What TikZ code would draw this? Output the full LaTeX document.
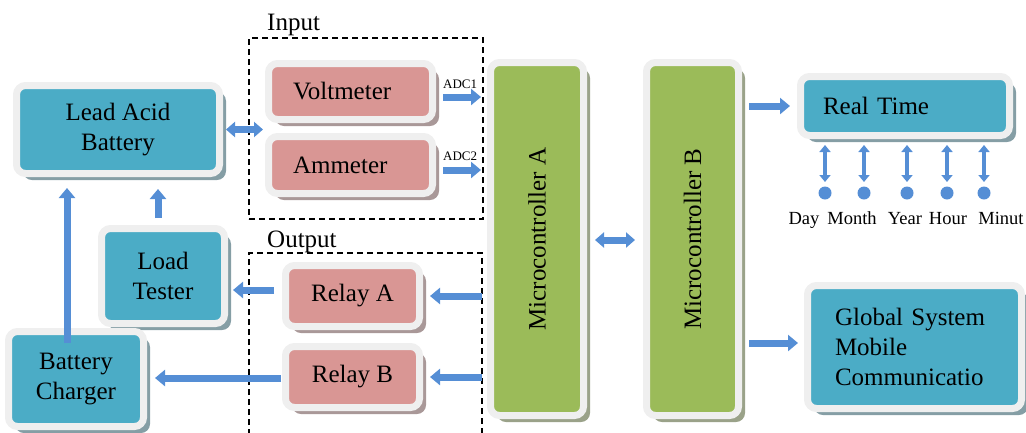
\documentclass[tikz,border=0pt]{standalone}
\usepackage{fontspec}
\setmainfont{Liberation Serif}
\usetikzlibrary{arrows.meta,shadows}

\definecolor{tealbox}{HTML}{4BACC6}
\definecolor{pinkbox}{HTML}{D99694}
\definecolor{greenbox}{HTML}{9BBB59}
\definecolor{rim}{HTML}{EFEFEF}
\definecolor{flow}{HTML}{558ED5}

\newcommand\bigtxt{\fontsize{25}{30}\selectfont}
\newcommand\midtxt{\fontsize{18.5}{22}\selectfont}
\newcommand\tinytxt{\fontsize{13}{15}\selectfont}

\tikzset{
  panel/.style={rectangle, rounded corners=9pt, draw=rim, line width=7pt,
    fill=#1, outer sep=0pt, inner sep=2pt, align=center, font=\bigtxt,
    drop shadow={shadow xshift=6.5pt, shadow yshift=-6.5pt, opacity=1,
      fill=#1!30!gray!85!white}},
  group/.style={draw=black, line width=1.4pt, dash pattern=on 6pt off 4pt,
    outer sep=0pt, inner sep=0pt},
  blk/.style={draw=flow, line width=7pt, -{Triangle[length=10pt,width=16pt]}},
  blkboth/.style={draw=flow, line width=7pt,
    {Triangle[length=9pt,width=15pt]}-{Triangle[length=9pt,width=15pt]}},
  thin both/.style={draw=flow, line width=4pt,
    {Triangle[length=7pt,width=11pt]}-{Triangle[length=7pt,width=11pt]}},
  dot/.style={circle, fill=flow, minimum size=13pt, inner sep=0pt, outer sep=0pt},
  caption/.style={anchor=base west, font=\bigtxt, inner sep=0pt},
}

\begin{document}
\begin{tikzpicture}[x=1pt, y=-1pt]
\useasboundingbox (0,0) rectangle (1026,432);
\clip (0,0) rectangle (1026,432);

% dashed groups
\node[group, minimum width=234pt, minimum height=181pt] (inbox) at (366,128.5) {};
\draw[group] (249,445) |- (482,253) -- (482,445);
\node[caption] (inlbl) at (267,30) {Input};
\node[caption] (outlbl) at (267,247) {Output};

% blocks
\node[panel=tealbox, minimum width=203pt, minimum height=88pt] (bat) at (118,129.5) {Lead Acid\\Battery};
\node[panel=tealbox, minimum width=123pt, minimum height=95pt] (load) at (163,276) {Load\\Tester};
\node[panel=tealbox, minimum width=135pt, minimum height=95pt] (chg) at (76,379) {Battery\\Charger};

\node[panel=pinkbox, minimum width=164pt, minimum height=56pt, text width=115pt, align=left] (volt) at (350.5,91.5) {Voltmeter};
\node[panel=pinkbox, minimum width=164pt, minimum height=57pt, text width=115pt, align=left] (amm) at (350.5,165) {Ammeter};
\node[panel=pinkbox, minimum width=134pt, minimum height=61pt] (relA) at (352.5,296) {Relay A};
\node[panel=pinkbox, minimum width=134pt, minimum height=61pt] (relB) at (352.5,377) {Relay B};

\node[panel=greenbox, minimum width=93pt, minimum height=353pt] (mcA) at (537,239) {};
\node[panel=greenbox, minimum width=92pt, minimum height=353pt] (mcB) at (692.5,239) {};
\node[rotate=90, font=\bigtxt] (mcAtxt) at (mcA) {Microcontroller A};
\node[rotate=90, font=\bigtxt] (mcBtxt) at (mcB) {Microcontroller B};

\node[panel=tealbox, minimum width=209pt, minimum height=59pt, text width=164pt, align=left] (rt) at (905,106) {Real Time};
\node[panel=tealbox, minimum width=214pt, minimum height=123pt, text width=159pt, align=left] (gsm) at (914.5,347) {Global System\\Mobile\\Communicatio};

% ADC labels
\node[anchor=base west, font=\tinytxt, inner sep=0pt] (adc1) at (443,88) {ADC1};
\node[anchor=base west, font=\tinytxt, inner sep=0pt] (adc2) at (443,160) {ADC2};

% time fields
\foreach \i/\x/\lx/\t in {1/825/804/Day, 2/864/852/Month, 3/907/905/Year, 4/947/948/Hour, 5/984/1001/Minut}{
  \node[dot] (d\i) at (\x,193) {};
  \node[font=\midtxt, inner sep=0pt, anchor=base] (l\i) at (\lx,224) {\t};
  \draw[thin both, shorten <=9.5pt, shorten >=4.5pt] (d\i |- rt.south) -- (d\i.north);
}

% connectors
\draw[blkboth, shorten <=6.5pt, shorten >=5.5pt] (bat.east) -- (bat.east -| volt.west);
\draw[blk, shorten <=10.5pt, shorten >=9.5pt] ([yshift=-5.5pt]volt.east) -- ([yshift=-5.5pt]volt.east -| mcA.west);
\draw[blk, shorten <=10.5pt, shorten >=9.5pt] ([yshift=-5pt]amm.east) -- ([yshift=-5pt]amm.east -| mcA.west);
\draw[blk, shorten <=8.5pt, shorten >=10.5pt] (relA.east -| mcA.west) -- (relA.east);
\draw[blk, shorten <=8.5pt, shorten >=10.5pt] (relB.east -| mcA.west) -- (relB.east);
\draw[blk, shorten <=11.5pt, shorten >=8.5pt] ([yshift=6pt]relA.west) -- ([yshift=6pt]relA.west -| load.east);
\draw[blk, shorten <=4.5pt, shorten >=11.5pt] ([yshift=-1pt]relB.west) -- ([yshift=-1pt]relB.west -| chg.east);
\draw[blk, shorten <=-11.5pt, shorten >=14.5pt] ([xshift=-9pt]chg.north) -- ([xshift=-9pt]chg.north |- bat.south);
\draw[blk, shorten <=10.5pt, shorten >=15.5pt] ([xshift=-5pt]load.north) -- ([xshift=-5pt]load.north |- bat.south);
\draw[blkboth, shorten <=11.5pt, shorten >=11.5pt] ([yshift=-1pt]mcA.east) -- ([yshift=-1pt]mcB.west);
\draw[blk, shorten <=10.5pt, shorten >=10.5pt] (mcB.east |- rt.west) -- (rt.west);
\draw[blk, shorten <=10.5pt, shorten >=9.5pt] ([yshift=4pt]gsm.west -| mcB.east) -- ([yshift=4pt]gsm.west);
\end{tikzpicture}
\end{document}
